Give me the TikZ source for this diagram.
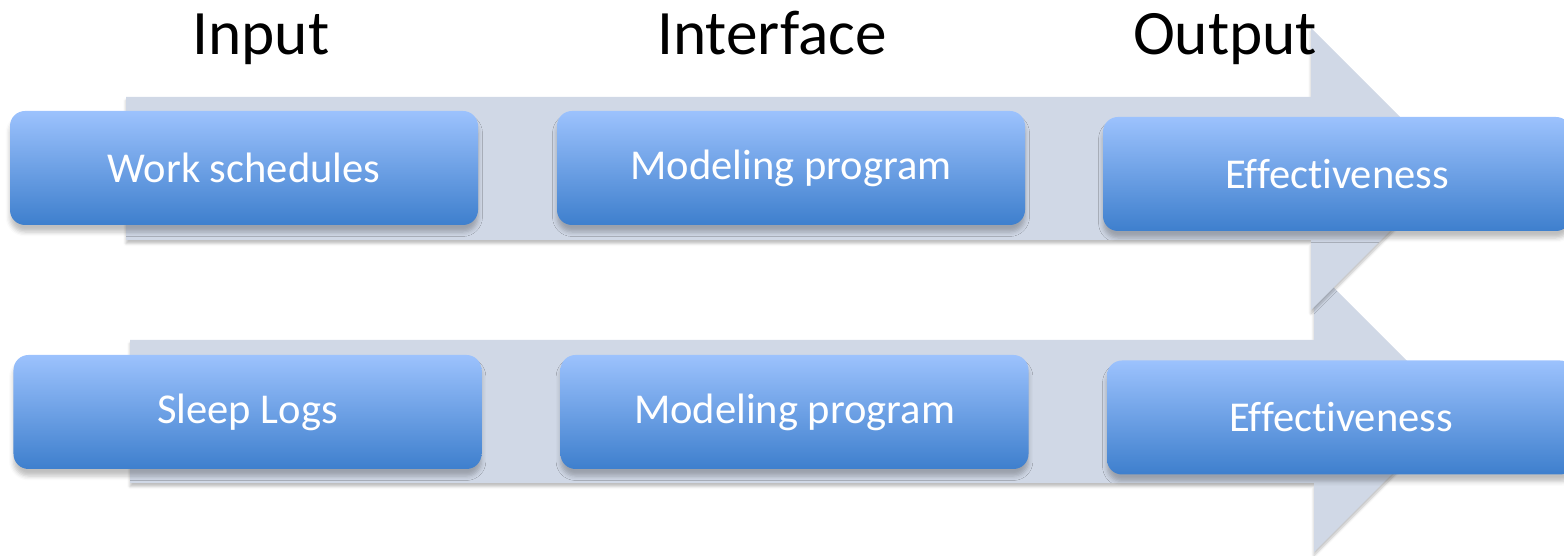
\documentclass[tikz,border=0pt]{standalone}
\usepackage{fontspec}
\setmainfont{Carlito}[Ligatures=NoCommon]
\usepackage{tikz}
\usetikzlibrary{shadows.blur}

\definecolor{arrowgray}{HTML}{D0D8E6}
\definecolor{boxtop}{HTML}{9CC2FD}
\definecolor{boxbottom}{HTML}{3E7FCD}

\tikzset{
	stagebox/.style={rounded corners=0.3cm, minimum width=9.36cm, minimum height=2.28cm,
		top color=boxtop, bottom color=boxbottom, text=white, font=\fontsize{24.2}{29}\selectfont,
		blur shadow={shadow xshift=0pt, shadow yshift=-4pt, shadow blur radius=2.5pt, shadow opacity=25}},
	header/.style={anchor=base, font=\fontsize{36}{42}\selectfont},
	flow/.style={fill=arrowgray,
		blur shadow={shadow xshift=0pt, shadow yshift=-2pt, shadow blur radius=1.5pt, shadow opacity=25}}
}

\begin{document}
\begin{tikzpicture}
	\clip (0,0) rectangle (31.28,11.12);
	% background arrows
	\fill[flow] (2.6,4.32) -- (26.28,4.32) -- (26.28,5.76) -- (29.12,2.92) -- (26.28,0.08) -- (26.28,1.46) -- (2.6,1.46) -- cycle;
	\fill[flow] (2.52,9.18) -- (26.22,9.18) -- (26.22,10.56) -- (29.04,7.74) -- (26.22,4.92) -- (26.22,6.32) -- (2.52,6.32) -- cycle;
	% headers
	\node[header] (input) at (5.22,10.02) {Input};
	\node[header] (interface) at (15.44,10.02) {Interface};
	\node[header] (output) at (24.5,10.02) {Output};
	% first row
	\node[stagebox] (work) at (4.88,7.76) {Work schedules};
	\node[stagebox] (model1) at (15.82,7.76) {Modeling program};
	\node[stagebox] (effect1) at (26.74,7.64) {Effectiveness};
	% second row
	\node[stagebox] (sleep) at (4.95,2.88) {Sleep Logs};
	\node[stagebox] (model2) at (15.89,2.88) {Modeling program};
	\node[stagebox] (effect2) at (26.82,2.77) {Effectiveness};
\end{tikzpicture}
\end{document}
